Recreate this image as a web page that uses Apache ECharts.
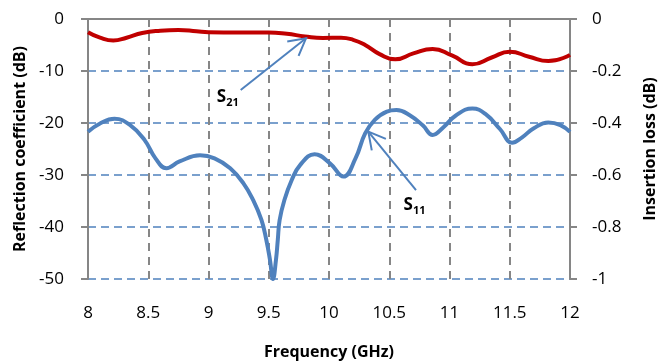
<!DOCTYPE html>
<html>
<head>
<meta charset="utf-8">
<script src="https://cdn.jsdelivr.net/npm/echarts@6/dist/echarts.min.js"></script>
<style>
  html, body { margin: 0; padding: 0; background: #fff; }
  #chart { width: 659px; height: 362px; }
</style>
</head>
<body>
<div id="chart"></div>
<script>
// S11, reflection coefficient (dB), left axis: [GHz, dB]
const s11 = [
  [8.0, -21.7], [8.1, -20.1], [8.22, -19.2], [8.35, -20.4], [8.47, -23.3],
  [8.56, -26.8], [8.65, -28.7], [8.76, -27.4], [8.93, -26.2], [9.05, -26.8],
  [9.18, -28.7], [9.29, -31.6], [9.37, -34.8], [9.44, -38.7], [9.48, -42.5],
  [9.51, -46.3], [9.535, -50.0], [9.56, -46.3], [9.575, -42.5], [9.59, -38.7],
  [9.63, -34.8], [9.69, -31.0], [9.76, -28.1], [9.88, -26.0], [10.01, -27.8],
  [10.12, -30.3], [10.22, -26.8], [10.3, -22.0], [10.38, -19.4], [10.48, -17.8],
  [10.56, -17.5], [10.67, -18.5], [10.78, -20.5], [10.86, -22.3], [10.95, -20.8],
  [11.05, -18.6], [11.19, -17.2], [11.3, -18.3], [11.42, -21.2], [11.52, -23.8],
  [11.6, -22.8], [11.7, -21.0], [11.82, -19.9], [11.92, -20.4], [12.0, -21.7]
];

// S21, insertion loss (dB), right axis: [GHz, dB]
const s21 = [
  [8.0, -0.051], [8.1, -0.072], [8.21, -0.083], [8.32, -0.072], [8.45, -0.054],
  [8.6, -0.045], [8.75, -0.042], [8.9, -0.047], [9.0, -0.051], [9.25, -0.052],
  [9.5, -0.052], [9.65, -0.057], [9.8, -0.067], [9.95, -0.073], [10.1, -0.072],
  [10.2, -0.08], [10.3, -0.1], [10.42, -0.135], [10.55, -0.155], [10.7, -0.132],
  [10.86, -0.115], [11.02, -0.14], [11.19, -0.174], [11.35, -0.148], [11.5, -0.126],
  [11.66, -0.145], [11.82, -0.162], [12.0, -0.138]
];

// annotation arrows in left-axis data units: [tailX, tailY, tipX, tipY]
const arrowS21 = [9.267, -13.65, 9.809, -3.71];
const arrowS11 = [10.722, -32.9, 10.326, -21.67];
// label anchors: [x, y, subscript]
const labelS21 = [9.16, -15.0, '21'];
const labelS11 = [10.71, -35.8, '11'];

const font = '"Open Sans", sans-serif';
const gray = '#868686';
const blue = '#4F81BD';
const red = '#C00000';

const chart = echarts.init(document.getElementById('chart'));

const titleStyle = { fontFamily: font, fontWeight: 'bold', fontSize: 16, color: '#000' };
const tickStyle = { fontFamily: font, fontSize: 17, color: '#000' };

const option = {
  animation: false,
  grid: { left: 88, right: 89, top: 19, bottom: 83, outerBoundsMode: 'none' },
  xAxis: {
    type: 'value',
    min: 8, max: 12, interval: 0.5,
    name: 'Frequency (GHz)',
    nameLocation: 'middle',
    nameGap: 65,
    nameTextStyle: titleStyle,
    axisLine: { show: true, lineStyle: { color: gray, width: 2 } },
    axisTick: { show: true, length: 7, lineStyle: { color: gray, width: 2 } },
    axisLabel: Object.assign({ margin: 26 }, tickStyle),
    splitLine: { show: true, lineStyle: { color: gray, width: 2, type: [8, 6] } }
  },
  yAxis: [
    {
      type: 'value',
      min: -50, max: 0, interval: 10,
      name: 'Reflection coefficient (dB)',
      nameLocation: 'middle',
      nameRotate: 90,
      nameGap: 58,
      nameTextStyle: titleStyle,
      axisLine: { show: true, lineStyle: { color: gray, width: 2 } },
      axisTick: { show: true, length: 7, lineStyle: { color: gray, width: 2 } },
      axisLabel: Object.assign({ margin: 24 }, tickStyle),
      splitLine: { show: true, lineStyle: { color: blue, width: 1.5, type: [8, 5] } }
    },
    {
      type: 'value',
      min: -1, max: 0, interval: 0.2,
      position: 'right',
      name: 'Insertion loss (dB)',
      nameLocation: 'middle',
      nameRotate: 90,
      nameGap: 72,
      nameTextStyle: titleStyle,
      axisLine: { show: true, lineStyle: { color: gray, width: 2 } },
      axisTick: { show: true, length: 7, lineStyle: { color: gray, width: 2 } },
      axisLabel: Object.assign({ margin: 22 }, tickStyle),
      splitLine: { show: false }
    }
  ],
  series: [
    {
      name: 'S21',
      type: 'line',
      yAxisIndex: 1,
      data: s21,
      smooth: 0.5,
      symbol: 'none',
      lineStyle: { color: red, width: 4 }
    },
    {
      name: 'S11',
      type: 'line',
      yAxisIndex: 0,
      data: s11,
      smooth: 0.45,
      symbol: 'none',
      lineStyle: { color: blue, width: 4 }
    }
  ]
};

chart.setOption(option);

function toPx(x, y) {
  return chart.convertToPixel({ xAxisIndex: 0, yAxisIndex: 0 }, [x, y]);
}

function arrow(a) {
  const t = toPx(a[0], a[1]);
  const h = toPx(a[2], a[3]);
  const ang = Math.atan2(t[1] - h[1], t[0] - h[0]);
  const len = 19, spread = 0.5;
  const w1 = [h[0] + len * Math.cos(ang + spread), h[1] + len * Math.sin(ang + spread)];
  const w2 = [h[0] + len * Math.cos(ang - spread), h[1] + len * Math.sin(ang - spread)];
  const style = { stroke: blue, lineWidth: 2, fill: null };
  return [
    { type: 'polyline', shape: { points: [t, h] }, style: style, z: 10 },
    { type: 'polyline', shape: { points: [w1, h, w2] }, style: style, z: 10 }
  ];
}

function label(l) {
  const p = toPx(l[0], l[1]);
  return {
    type: 'text',
    x: p[0], y: p[1],
    z: 10,
    style: {
      text: '{s|S}{n|' + l[2] + '}',
      align: 'center',
      verticalAlign: 'middle',
      rich: {
        s: { fontFamily: font, fontWeight: 'bold', fontSize: 17, fill: '#000', verticalAlign: 'bottom' },
        n: { fontFamily: font, fontWeight: 'bold', fontSize: 11, fill: '#000', verticalAlign: 'bottom', padding: [0, 0, -3, 0] }
      }
    }
  };
}

chart.setOption({
  graphic: [].concat(arrow(arrowS21), arrow(arrowS11), [label(labelS21), label(labelS11)])
});
</script>
</body>
</html>
